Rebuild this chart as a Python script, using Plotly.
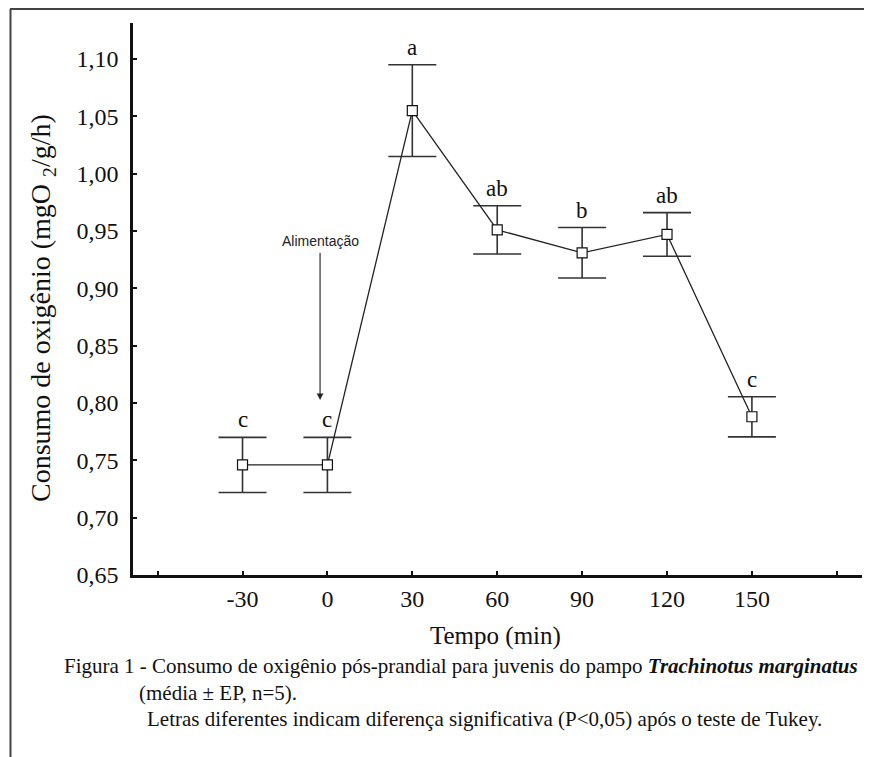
import plotly.graph_objects as go

tempo = [-30, 0, 30, 60, 90, 120, 150]
consumo = [0.746, 0.746, 1.055, 0.951, 0.931, 0.947, 0.788]
erro = [0.024, 0.024, 0.040, 0.021, 0.022, 0.019, 0.0175]
letras = ["c", "c", "a", "ab", "b", "ab", "c"]

y_ticks = [0.65, 0.70, 0.75, 0.80, 0.85, 0.90, 0.95, 1.00, 1.05, 1.10]
y_ticktext = ["0,65", "0,70", "0,75", "0,80", "0,85", "0,90", "0,95", "1,00", "1,05", "1,10"]
x_ticks = [-30, 0, 30, 60, 90, 120, 150]
x_ticktext = ["-30", "0", "30", "60", "90", "120", "150"]
x_minor_ticks = [-60, 180]

SERIF = "Liberation Serif, Times New Roman, serif"
SANS = "Liberation Sans, Arial, sans-serif"

# page body has an 8px margin, so the figure is drawn 8px right/down
OFF = 8
W, H = 872 - OFF, 757 - OFF
L, R, T, B = 133 - OFF, 10, 23 - OFF, 182
pw, ph = W - L - R, H - T - B

def px(x):  # x in reference-screenshot pixels -> paper
    return (x - OFF - L) / pw

def py(y):  # y in reference-screenshot pixels -> paper
    return (H - B - (y - OFF)) / ph

fig = go.Figure()
fig.add_trace(go.Scatter(
    x=tempo, y=consumo, mode="lines+markers",
    line=dict(color="#222222", width=1.3),
    marker=dict(symbol="square", size=10, color="white",
                line=dict(color="#111111", width=1.2)),
    error_y=dict(type="data", array=erro, visible=True,
                 color="#333333", thickness=1.6, width=24),
    showlegend=False,
))

annotations = []
for t, c, e, l in zip(tempo, consumo, erro, letras):
    annotations.append(dict(x=t, y=c + e, xref="x", yref="y", text=l,
                            showarrow=False, xanchor="center", yanchor="bottom", yshift=3,
                            font=dict(family=SERIF, size=23, color="#111111")))

# feeding arrow with its label at the tail
annotations.append(dict(x=-2.6, y=0.8026, ax=-2.6, ay=0.941, xref="x", yref="y",
                        axref="x", ayref="y", text="Alimentação", showarrow=True,
                        arrowhead=2, arrowsize=1.2, arrowwidth=1.1, standoff=0,
                        startstandoff=2, arrowcolor="#222222",
                        font=dict(family=SANS, size=14, color="#222222")))

# axis titles
annotations.append(dict(x=px(42), y=py(308), xref="paper", yref="paper",
                        xanchor="center", yanchor="middle",
                        text="Consumo de oxigênio (mgO <sub>2</sub>/g/h)", textangle=-90,
                        showarrow=False, font=dict(family=SERIF, size=28, color="#111111")))
annotations.append(dict(x=px(495), y=py(636), xref="paper", yref="paper",
                        xanchor="center", yanchor="middle",
                        text="Tempo (min)", showarrow=False,
                        font=dict(family=SERIF, size=25, color="#111111")))

# caption
cap_font = dict(family=SERIF, size=21, color="#111111")
annotations.append(dict(x=px(62), y=py(666), xref="paper", yref="paper",
                        xanchor="left", yanchor="middle",
                        text="Figura 1 - Consumo de oxigênio pós-prandial para juvenis do pampo <b><i>Trachinotus marginatus</i></b>",
                        showarrow=False, font=cap_font))
annotations.append(dict(x=px(137), y=py(693), xref="paper", yref="paper",
                        xanchor="left", yanchor="middle",
                        text="(média ± EP, n=5).", showarrow=False, font=cap_font))
annotations.append(dict(x=px(145), y=py(719), xref="paper", yref="paper",
                        xanchor="left", yanchor="middle",
                        text="Letras diferentes indicam diferença significativa (P&lt;0,05) após o teste de Tukey.",
                        showarrow=False, font=cap_font))

shapes = [
    dict(type="line", xref="paper", yref="paper", x0=px(10), x1=px(880), y0=py(9), y1=py(9),
         line=dict(color="#444444", width=2)),
    dict(type="line", xref="paper", yref="paper", x0=px(10.5), x1=px(10.5), y0=py(9), y1=py(770),
         line=dict(color="#444444", width=2)),
]

fig.update_layout(
    width=W, height=H,
    margin=dict(l=L, r=R, t=T, b=B),
    paper_bgcolor="white", plot_bgcolor="white",
    annotations=annotations, shapes=shapes,
    xaxis=dict(range=[-68.7, 188.9], tickvals=x_ticks, ticktext=x_ticktext,
               ticks="inside", ticklen=4, tickwidth=2, tickcolor="#111111",
               minor=dict(tickvals=x_minor_ticks, ticks="inside", ticklen=4,
                          tickwidth=2, tickcolor="#111111", showgrid=False),
               showline=True, linecolor="#111111", linewidth=2.5,
               showgrid=False, zeroline=False,
               tickfont=dict(family=SERIF, size=24, color="#111111")),
    yaxis=dict(range=[0.65, 1.1314], tickvals=y_ticks, ticktext=y_ticktext,
               ticks="inside", ticklen=4, tickwidth=2, tickcolor="#111111",
               showline=True, linecolor="#111111", linewidth=2.5,
               showgrid=False, zeroline=False, ticklabelstandoff=7,
               tickfont=dict(family=SERIF, size=24, color="#111111")),
)

fig.write_html("out.html")
